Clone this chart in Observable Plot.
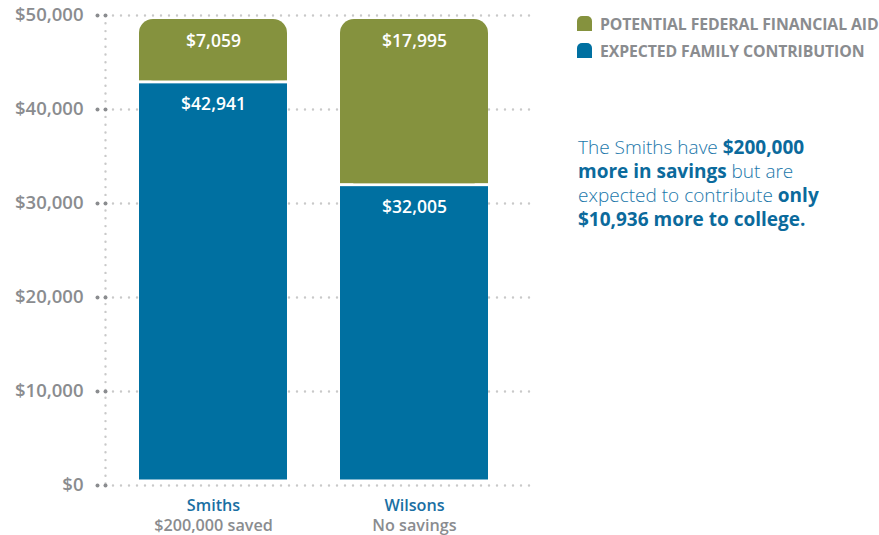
<!DOCTYPE html>
<html>
<head>
<meta charset="utf-8">
<script src="https://cdn.jsdelivr.net/npm/d3@7"></script>
<script src="https://cdn.jsdelivr.net/npm/@observablehq/plot@0.6"></script>
<style>
  html, body { margin: 0; padding: 0; background: #fff; }
  #wrap { position: relative; width: 879px; height: 535px; font-family: "Open Sans", sans-serif; }
  #chart { position: absolute; left: 0; top: 0; }
  .legend { position: absolute; left: 577px; top: 10px; }
  .legend .item { display: flex; align-items: center; height: 27px; color: #8a8c8f; font-weight: 700; font-size: 15.8px; letter-spacing: -0.1px; white-space: nowrap; }
  .legend .sw { width: 15px; height: 15px; border-radius: 5px 5px 0 0; margin-right: 8px; }
  .note { position: absolute; left: 578px; top: 135px; white-space: nowrap; font-size: 19px; line-height: 24px; color: #1a77aa; font-weight: 300; }
  .note div { height: 24px; }
  .note b { font-weight: 700; color: #0b6a9c; }
</style>
</head>
<body>
<div id="wrap">
  <div id="chart"></div>
  <div class="legend" id="legend"></div>
  <div class="note">
    <div>The Smiths have <b>$200,000</b></div>
    <div><b>more in savings</b> but are</div>
    <div>expected to contribute <b>only</b></div>
    <div><b>$10,936 more to college.</b></div>
  </div>
</div>
<script>
const families = ["Smiths", "Wilsons"];
const subtitles = ["$200,000 saved", "No savings"];
const efc = [42941, 32005];   // Expected family contribution
const aid = [7059, 17995];    // Potential federal financial aid
const yTicks = [0, 10000, 20000, 30000, 40000, 50000];
const seriesNames = ["POTENTIAL FEDERAL FINANCIAL AID", "EXPECTED FAMILY CONTRIBUTION"];
const colors = { aid: "#85923e", efc: "#0070a1" };

const rows = families.map((f, i) => ({
  family: f, sub: subtitles[i], efc: efc[i], aid: aid[i], total: efc[i] + aid[i]
}));

const gridColor = "#c9c9c9";
const tickColor = "#8a8c8f";
const labelColor = "#8a8c8f";
const nameColor = "#1a6fa3";

const chart = Plot.plot({
  width: 879,
  height: 535,
  marginLeft: 105,
  marginRight: 344,
  marginTop: 15,
  marginBottom: 50,
  style: { fontFamily: "Open Sans, sans-serif", background: "transparent" },
  x: { domain: families, range: [138, 489], paddingInner: 0.262, paddingOuter: 0, axis: null },
  y: { domain: [0, 50000], axis: null },
  marks: [
    Plot.ruleY(yTicks, { stroke: gridColor, strokeWidth: 2.4, strokeDasharray: "0 8", strokeLinecap: "round" }),
    Plot.frame({ anchor: "left", stroke: gridColor, strokeWidth: 2.4, strokeDasharray: "0 7.8", strokeLinecap: "round" }),
    Plot.dot(yTicks, { y: d => d, frameAnchor: "left", r: 2, fill: tickColor, dx: -8 }),
    Plot.dot(yTicks, { y: d => d, frameAnchor: "left", r: 2, fill: tickColor }),
    Plot.text(yTicks, { y: d => d, text: d => "$" + d3.format(",")(d), frameAnchor: "left", dx: -22, textAnchor: "end", fill: labelColor, fontSize: 18.5, fontWeight: 600 }),
    Plot.barY(rows, { x: "family", y1: 0, y2: "efc", fill: colors.efc, insetTop: 2, insetBottom: 5.5 }),
    Plot.barY(rows, { x: "family", y1: "efc", y2: "total", fill: colors.aid, insetTop: 4, insetBottom: 1, rx: 14 }),
    Plot.barY(rows, { x: "family", y1: "efc", y2: "total", fill: colors.aid, insetTop: 24, insetBottom: 1 }),
    Plot.text(rows, { x: "family", y: "total", text: d => "$" + d3.format(",")(d.aid), dy: 26, fill: "white", fontSize: 17.5, fontWeight: 600 }),
    Plot.text(rows, { x: "family", y: "efc", text: d => "$" + d3.format(",")(d.efc), dy: 23, fill: "white", fontSize: 17.5, fontWeight: 600 }),
    Plot.text(rows, { x: "family", text: d => d.family + "\n" + d.sub, frameAnchor: "bottom", lineAnchor: "middle", lineHeight: 1.26, dy: 29, fill: labelColor, fontSize: 16.2, fontWeight: 600, className: "xlab" })
  ]
});
document.getElementById("chart").appendChild(chart);
d3.select(chart).selectAll(".xlab text").each(function () {
  d3.select(this).select("tspan").attr("fill", nameColor);
});

const legend = document.getElementById("legend");
[["aid", seriesNames[0]], ["efc", seriesNames[1]]].forEach(([k, name]) => {
  const item = document.createElement("div");
  item.className = "item";
  const sw = document.createElement("div");
  sw.className = "sw";
  sw.style.background = colors[k];
  item.appendChild(sw);
  item.appendChild(document.createTextNode(name));
  legend.appendChild(item);
});
</script>
</body>
</html>
